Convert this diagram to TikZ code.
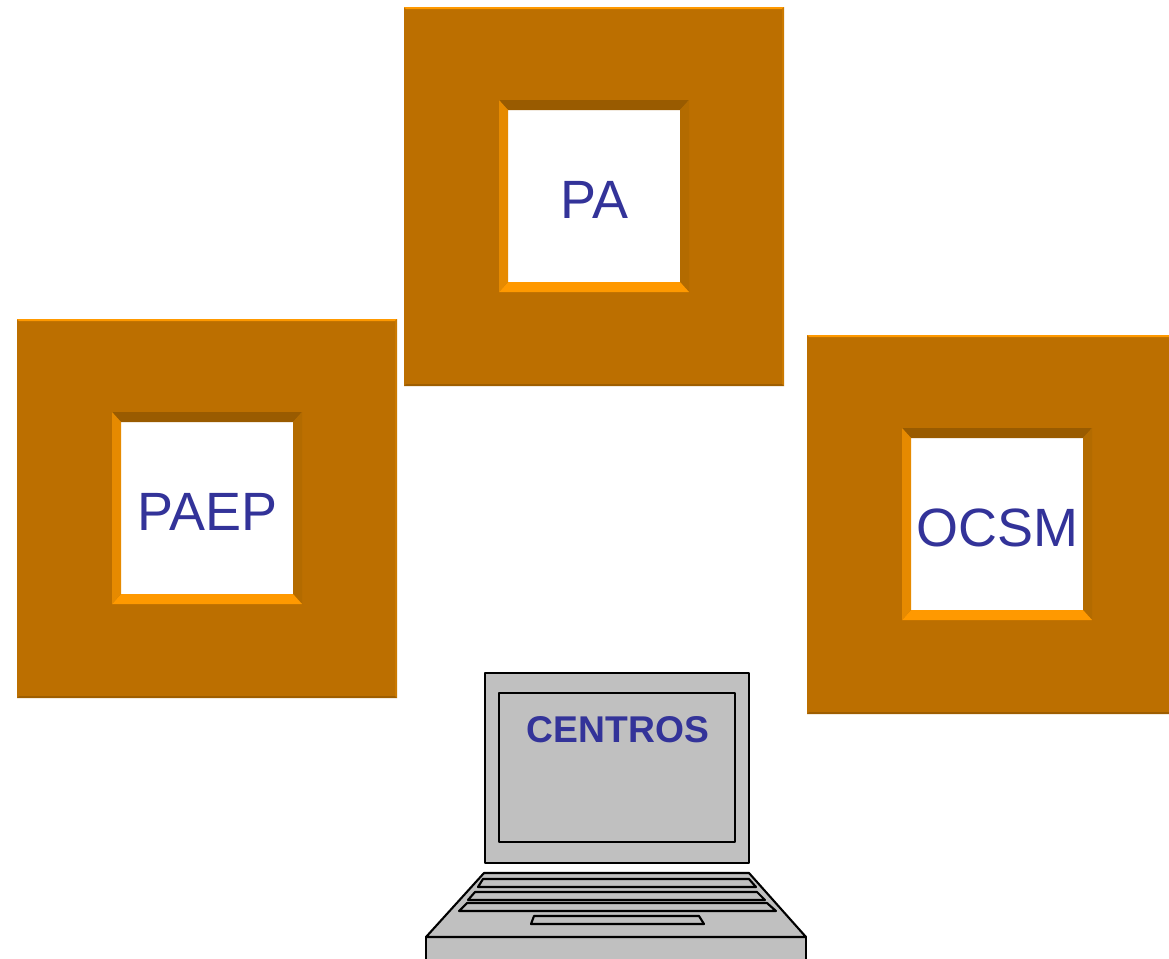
\documentclass[tikz,border=0pt]{standalone}
\usepackage{fontspec}
\setmainfont{Liberation Sans}
\usepackage{xcolor}
\definecolor{framemain}{HTML}{BC6F00}
\definecolor{bevtop}{HTML}{995B00}
\definecolor{bevbottom}{HTML}{FF9900}
\definecolor{bevleft}{HTML}{E68A00}
\definecolor{bevright}{HTML}{B36B00}
\definecolor{labelblue}{HTML}{333399}
\definecolor{laptopgray}{HTML}{C0C0C0}
\tikzset{
  laptop/.style={draw=black,fill=laptopgray,line width=1.2pt,line join=round},
  framelabel/.style={text=labelblue,font=\fontsize{30.7}{36}\selectfont},
  screenlabel/.style={text=labelblue,font=\fontsize{21.2}{26}\selectfont\bfseries}
}
% one frame: top left corner x, y, node name, text
\newcommand{\bevelframe}[4]{
  \begin{scope}[shift={(#1,#2)}]
    \fill[framemain] (0,0) rectangle (380,379);
    \fill[bevbottom] (0,0) -- (380,0) -- (378,2) -- (2,2) -- cycle;
    \fill[bevright!70!bevbottom] (380,0) -- (380,379) -- (378,377) -- (378,2) -- cycle;
    \fill[bevtop!85!framemain] (0,379) -- (380,379) -- (378,377) -- (2,377) -- cycle;
    \fill[white] (104,103) rectangle (276,275);
    \fill[bevtop] (95,93) -- (285,93) -- (276,103) -- (104,103) -- cycle;
    \fill[bevright] (285,93) -- (285,285) -- (276,275) -- (276,103) -- cycle;
    \fill[bevbottom] (95,285) -- (285,285) -- (276,275) -- (104,275) -- cycle;
    \fill[bevleft] (95,93) -- (95,285) -- (104,275) -- (104,103) -- cycle;
    \node[framelabel] (#3) at (190.5,193) {#4};
  \end{scope}
}
\begin{document}
\begin{tikzpicture}[x=0.02cm,y=-0.02cm]
  \useasboundingbox (0,0) rectangle (1169,958);
  \clip (0,0) rectangle (1169,958);
  \bevelframe{404}{7}{pa}{PA}
  \bevelframe{17}{319}{paep}{PAEP}
  \bevelframe{807}{335}{ocsm}{OCSM}
  % laptop
  \draw[laptop] (485,673) rectangle (749,863);
  \draw[laptop] (499,693) rectangle (735,842);
  \node[screenlabel] (centros) at (618,730) {CENTROS};
  \draw[laptop] (426,937) rectangle (806,970);
  \draw[laptop] (484,873) -- (749,873) -- (806,937) -- (426,937) -- cycle;
  \draw[laptop] (483,879) -- (749,879) -- (756,887) -- (478,887) -- cycle;
  \draw[laptop] (475,892) -- (757,892) -- (765,900) -- (468,900) -- cycle;
  \draw[laptop] (467,903) -- (767,903) -- (776,911) -- (459,911) -- cycle;
  \draw[laptop] (534,916) -- (699,916) -- (704,924) -- (531,924) -- cycle;
\end{tikzpicture}
\end{document}
